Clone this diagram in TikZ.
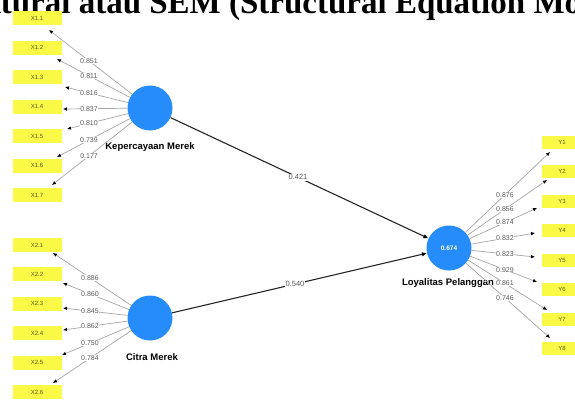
\documentclass[tikz,border=0pt]{standalone}
\usepackage{fontspec}
\setmainfont{Liberation Sans}
\newfontfamily\titlefont{Liberation Serif}
\usetikzlibrary{arrows.meta,calc}
\definecolor{latblue}{RGB}{38,140,250}
\definecolor{indyellow}{RGB}{250,250,70}
\definecolor{indtext}{RGB}{90,90,40}
\definecolor{lbltext}{RGB}{90,90,90}
\begin{document}
\begin{tikzpicture}[x=1pt,y=-1pt,
  lat/.style={circle,fill=latblue,minimum size=45pt,inner sep=0pt},
  latname/.style={font=\fontsize{9.5}{10}\selectfont\bfseries,text=black,inner sep=0pt},
  indbox/.style={fill=indyellow,minimum width=49pt,minimum height=14pt,inner sep=0pt,font=\fontsize{6}{7}\selectfont,text=indtext},
  ybox/.style={fill=indyellow,minimum width=40pt,minimum height=13pt,inner sep=0pt,font=\fontsize{6}{7}\selectfont,text=indtext},
  iarrow/.style={draw=gray!70,line width=0.7pt,-{Latex[length=4pt,width=3.6pt,color=black]}},
  parrow/.style={draw=black!85,line width=1.1pt,-{Latex[length=5pt,width=4.5pt,color=black]}},
  lbl/.style={fill=white,inner sep=0.3pt,font=\fontsize{7}{8}\selectfont,text=lbltext},
  plbl/.style={fill=white,inner sep=0.6pt,font=\fontsize{7.5}{8}\selectfont,text=lbltext}]
\useasboundingbox (0,0) rectangle (575,400);
\clip (0,0) rectangle (575,400);
\fill[white] (0,0) rectangle (575,400);
% title (cropped at the top edge, as in the reference)
\node[anchor=base west,inner sep=0pt,font=\titlefont\bfseries\fontsize{33}{34}\selectfont] (title) at (-80,13.5) {Struktural atau SEM (Structural Equation Model)};
% latent variables
\node[lat] (kep) at (150,108) {};
\node[lat] (cit) at (150,318) {};
\node[lat,font=\fontsize{6.5}{7}\selectfont\bfseries,text=white] (loy) at (449,248) {0.674};
\node[latname] (kepname) at (150,147) {Kepercayaan Merek};
\node[latname] (citname) at (152,357) {Citra Merek};
\node[latname] (loyname) at (448,283) {Loyalitas Pelanggan};
% indicator boxes X1
\node[indbox] (x11) at (37,18) {X1.1};
\node[indbox] (x12) at (37,47.5) {X1.2};
\node[indbox] (x13) at (37,77) {X1.3};
\node[indbox] (x14) at (37,106.5) {X1.4};
\node[indbox] (x15) at (37,136) {X1.5};
\node[indbox] (x16) at (37,165.5) {X1.6};
\node[indbox] (x17) at (37,195) {X1.7};
% indicator boxes X2
\node[indbox] (x21) at (37,245) {X2.1};
\node[indbox] (x22) at (37,274.4) {X2.2};
\node[indbox] (x23) at (37,303.8) {X2.3};
\node[indbox] (x24) at (37,333.2) {X2.4};
\node[indbox] (x25) at (37,362.6) {X2.5};
\node[indbox] (x26) at (37,392) {X2.6};
% indicator boxes Y
\node[ybox] (y1) at (562,142) {Y1};
\node[ybox] (y2) at (562,171.5) {Y2};
\node[ybox] (y3) at (562,201) {Y3};
\node[ybox] (y4) at (562,230.5) {Y4};
\node[ybox] (y5) at (562,260) {Y5};
\node[ybox] (y6) at (562,289.5) {Y6};
\node[ybox] (y7) at (562,319) {Y7};
\node[ybox] (y8) at (562,348.5) {Y8};
% arrow tips
\coordinate (t11) at (49,30);
\coordinate (t12) at (57,59);
\coordinate (t13) at (65,87);
\coordinate (t14) at (63,109);
\coordinate (t15) at (67,129);
\coordinate (t16) at (57,157);
\coordinate (t17) at (52,185);
\coordinate (t21) at (53,253);
\coordinate (t22) at (63,283);
\coordinate (t23) at (63,308);
\coordinate (t24) at (63,330);
\coordinate (t25) at (62,355);
\coordinate (t26) at (53,383);
\coordinate (ty1) at (550,152);
\coordinate (ty2) at (547,180);
\coordinate (ty3) at (537,208);
\coordinate (ty4) at (535,233);
\coordinate (ty5) at (535,257);
\coordinate (ty6) at (537,282);
\coordinate (ty7) at (547,310);
\coordinate (ty8) at (550,338);
% indicator arrows
\foreach \t in {t11,t12,t13,t14,t15,t16,t17} \draw[iarrow] (kep) -- (\t);
\foreach \t in {t21,t22,t23,t24,t25,t26} \draw[iarrow] (cit) -- (\t);
\foreach \t in {ty1,ty2,ty3,ty4,ty5,ty6,ty7,ty8} \draw[iarrow] (loy) -- (\t);
% structural paths
\draw[parrow] (kep) -- (loy);
\draw[parrow] (cit) -- (loy);
\node[plbl] (p1) at ($(kep.center)!0.495!(loy.center)$) {0.421};
\node[plbl] (p2) at ($(cit.center)!0.485!(loy.center)$) {0.540};
% loadings X1
\node[lbl] (l11) at ($(kep.center)!0.604!(t11)$) {0.851};
\node[lbl] (l12) at ($(kep.center)!0.656!(t12)$) {0.811};
\node[lbl] (l13) at ($(kep.center)!0.718!(t13)$) {0.816};
\node[lbl] (l14) at ($(kep.center)!0.701!(t14)$) {0.837};
\node[lbl] (l15) at ($(kep.center)!0.735!(t15)$) {0.810};
\node[lbl] (l16) at ($(kep.center)!0.656!(t16)$) {0.739};
\node[lbl] (l17) at ($(kep.center)!0.622!(t17)$) {0.177};
% loadings X2
\node[lbl] (l21) at ($(cit.center)!0.619!(t21)$) {0.886};
\node[lbl] (l22) at ($(cit.center)!0.690!(t22)$) {0.860};
\node[lbl] (l23) at ($(cit.center)!0.690!(t23)$) {0.845};
\node[lbl] (l24) at ($(cit.center)!0.690!(t24)$) {0.862};
\node[lbl] (l25) at ($(cit.center)!0.682!(t25)$) {0.750};
\node[lbl] (l26) at ($(cit.center)!0.619!(t26)$) {0.784};
% loadings Y
\node[lbl] (ly1) at ($(loy.center)!0.554!(ty1)$) {0.876};
\node[lbl] (ly2) at ($(loy.center)!0.571!(ty2)$) {0.856};
\node[lbl] (ly3) at ($(loy.center)!0.636!(ty3)$) {0.874};
\node[lbl] (ly4) at ($(loy.center)!0.651!(ty4)$) {0.832};
\node[lbl] (ly5) at ($(loy.center)!0.651!(ty5)$) {0.823};
\node[lbl] (ly6) at ($(loy.center)!0.636!(ty6)$) {0.929};
\node[lbl] (ly7) at ($(loy.center)!0.571!(ty7)$) {0.861};
\node[lbl] (ly8) at ($(loy.center)!0.554!(ty8)$) {0.746};
\end{tikzpicture}
\end{document}
